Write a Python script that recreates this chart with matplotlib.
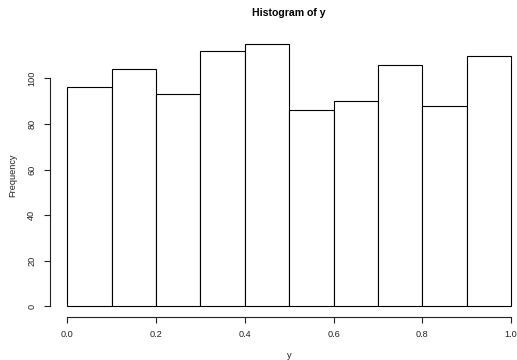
import numpy as np
import matplotlib
matplotlib.use("Agg")
import matplotlib.pyplot as plt

# histogram counts of y over 10 equal bins
breaks = [0.0, 0.1, 0.2, 0.3, 0.4, 0.5, 0.6, 0.7, 0.8, 0.9, 1.0]
counts = [96, 104, 93, 112, 115, 86, 90, 106, 88, 110]
xticks = [0.0, 0.2, 0.4, 0.6, 0.8, 1.0]
yticks = [0, 20, 40, 60, 80, 100]

plt.rcParams['font.family'] = ['Liberation Sans', 'DejaVu Sans']

W, H = 517, 360
fig = plt.figure(figsize=(W / 100, H / 100), dpi=100)
# plot region in pixels (left, top, right, bottom)
l, t, r, b = 49.5, 33.7, 528.8, 316.7
ax = fig.add_axes([l / W, 1 - b / H, (r - l) / W, (b - t) / H])

left = np.array(breaks[:-1])
widths = np.diff(breaks)
ax.bar(left, counts, width=widths, align='edge', color='white',
       edgecolor='black', linewidth=0.8)

ax.set_xlim(-0.04, 1.04)
ymax = max(counts)
ax.set_ylim(-0.04 * ymax, 1.04 * ymax)

for s in ['top', 'right']:
    ax.spines[s].set_visible(False)
ax.spines['left'].set_bounds(yticks[0], yticks[-1])
ax.spines['bottom'].set_bounds(xticks[0], xticks[-1])
for s in ['left', 'bottom']:
    ax.spines[s].set_linewidth(0.8)
    ax.spines[s].set_color('#222222')

ax.set_xticks(xticks)
ax.set_xticklabels(['%.1f' % v for v in xticks])
ax.set_yticks(yticks)
ax.set_yticklabels([str(v) for v in yticks], rotation=90, va='center')
ax.tick_params(axis='both', direction='out', length=4.5, width=0.8,
               labelsize=6.6, color='#222222', labelcolor='#222222')
ax.tick_params(axis='x', pad=5)
ax.tick_params(axis='y', pad=5)

# axis titles and main title placed in figure pixels
fig.text(289 / W, 1 - 355 / H, 'y', fontsize=6.6, color='#222222',
         ha='center', va='center')
fig.text(12.5 / W, 1 - 175 / H, 'Frequency', fontsize=6.6, color='#222222',
         ha='center', va='center', rotation=90)
fig.text(289 / W, 1 - 13 / H, 'Histogram of y', fontsize=7.6,
         fontweight='bold', ha='center', va='center')

fig.savefig('out.png', dpi=100)
